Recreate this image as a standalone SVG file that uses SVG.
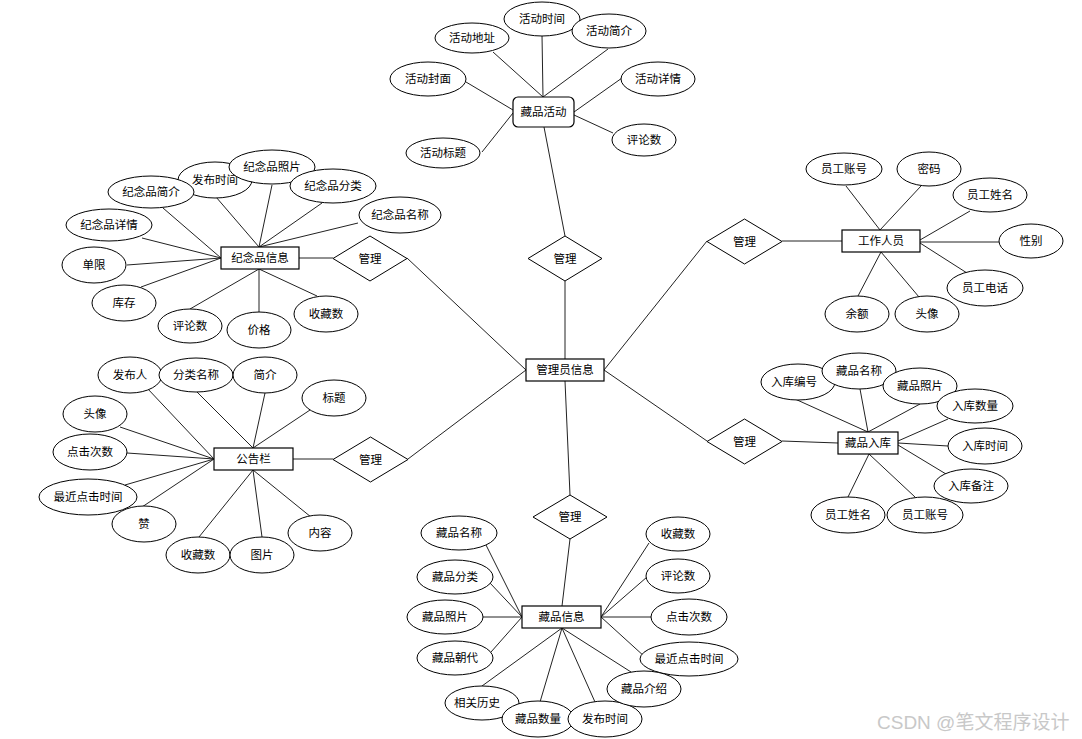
<svg xmlns="http://www.w3.org/2000/svg" width="1082" height="739" viewBox="0 0 1082 739">
<style>
text{font-family:"Liberation Sans","Noto Sans CJK SC",sans-serif;font-size:11.5px;fill:#000;text-anchor:middle;dominant-baseline:central}
.a ellipse{fill:#fff;stroke:#000;stroke-width:1}
.e rect{fill:#fff;stroke:#000;stroke-width:1.2}
.r polygon{fill:#fff;stroke:#000;stroke-width:1}
#connectors line{stroke:#222;stroke-width:1}
.wm{font-size:19px;fill:#c8c8c8;text-anchor:start}
</style>
<rect width="1082" height="739" fill="#fff"/>
<g id="connectors">
<line x1="493" y1="52" x2="543" y2="97"/>
<line x1="542" y1="35" x2="543" y2="97"/>
<line x1="608" y1="49" x2="543" y2="97"/>
<line x1="466" y1="82" x2="513" y2="110"/>
<line x1="622" y1="78" x2="574" y2="112"/>
<line x1="613" y1="133" x2="574" y2="115"/>
<line x1="482" y1="152" x2="513" y2="113"/>
<line x1="544" y1="127" x2="565" y2="236"/>
<line x1="565" y1="281" x2="565" y2="359"/>
<line x1="407" y1="258" x2="526" y2="370"/>
<line x1="408" y1="459" x2="526" y2="370"/>
<line x1="604" y1="370" x2="707" y2="241"/>
<line x1="604" y1="370" x2="707" y2="441"/>
<line x1="565" y1="381" x2="570" y2="495"/>
<line x1="782" y1="241" x2="842" y2="241"/>
<line x1="846" y1="186" x2="880" y2="230"/>
<line x1="921" y1="186" x2="880" y2="230"/>
<line x1="970" y1="211" x2="920" y2="240"/>
<line x1="999" y1="242" x2="920" y2="242"/>
<line x1="967" y1="273" x2="920" y2="243"/>
<line x1="858" y1="296" x2="881" y2="252"/>
<line x1="919" y1="297" x2="881" y2="252"/>
<line x1="782" y1="441" x2="838" y2="443"/>
<line x1="795" y1="399" x2="868" y2="432"/>
<line x1="860" y1="389" x2="868" y2="432"/>
<line x1="920" y1="404" x2="868" y2="432"/>
<line x1="948" y1="419" x2="898" y2="441"/>
<line x1="948" y1="446" x2="898" y2="443"/>
<line x1="946" y1="474" x2="898" y2="445"/>
<line x1="848" y1="497" x2="869" y2="454"/>
<line x1="915" y1="497" x2="869" y2="454"/>
<line x1="299" y1="258" x2="333" y2="258"/>
<line x1="163" y1="208" x2="221" y2="258"/>
<line x1="216" y1="197" x2="259" y2="247"/>
<line x1="272" y1="185" x2="259" y2="247"/>
<line x1="322" y1="203" x2="259" y2="247"/>
<line x1="358" y1="223" x2="259" y2="247"/>
<line x1="142" y1="238" x2="221" y2="258"/>
<line x1="127" y1="265" x2="221" y2="258"/>
<line x1="141" y1="287" x2="221" y2="258"/>
<line x1="190" y1="309" x2="259" y2="269"/>
<line x1="259" y1="312" x2="259" y2="269"/>
<line x1="317" y1="296" x2="259" y2="269"/>
<line x1="293" y1="459" x2="333" y2="459"/>
<line x1="147" y1="388" x2="214" y2="459"/>
<line x1="197" y1="392" x2="253" y2="448"/>
<line x1="265" y1="393" x2="253" y2="448"/>
<line x1="310" y1="410" x2="253" y2="448"/>
<line x1="120" y1="427" x2="214" y2="459"/>
<line x1="127" y1="453" x2="214" y2="459"/>
<line x1="125" y1="485" x2="214" y2="459"/>
<line x1="142" y1="507" x2="214" y2="459"/>
<line x1="199" y1="537" x2="253" y2="470"/>
<line x1="262" y1="537" x2="253" y2="470"/>
<line x1="311" y1="517" x2="253" y2="470"/>
<line x1="570" y1="539" x2="562" y2="606"/>
<line x1="486" y1="545" x2="522" y2="617"/>
<line x1="490" y1="583" x2="522" y2="617"/>
<line x1="483" y1="617" x2="522" y2="617"/>
<line x1="491" y1="652" x2="522" y2="617"/>
<line x1="482" y1="686" x2="562" y2="628"/>
<line x1="540" y1="702" x2="562" y2="628"/>
<line x1="595" y1="702" x2="562" y2="628"/>
<line x1="631" y1="672" x2="562" y2="628"/>
<line x1="649" y1="543" x2="601" y2="617"/>
<line x1="647" y1="577" x2="601" y2="617"/>
<line x1="651" y1="617" x2="601" y2="617"/>
<line x1="645" y1="657" x2="601" y2="617"/>
</g>

<g id="n-cangpinhuodong" class="e"><rect x="513" y="97" width="61" height="30" rx="5"/><text x="543.5" y="112">藏品活动</text></g>
<g id="n-admin" class="e"><rect x="526" y="359" width="78" height="22"/><text x="565" y="370">管理员信息</text></g>
<g id="n-staff" class="e"><rect x="842" y="230" width="78" height="22"/><text x="881" y="241">工作人员</text></g>
<g id="n-ruku" class="e"><rect x="838" y="432" width="60" height="22"/><text x="868" y="443">藏品入库</text></g>
<g id="n-jinianpin" class="e"><rect x="221" y="247" width="78" height="22"/><text x="260" y="258">纪念品信息</text></g>
<g id="n-gonggao" class="e"><rect x="214" y="448" width="79" height="22"/><text x="253.5" y="459">公告栏</text></g>
<g id="n-cangpin" class="e"><rect x="522" y="606" width="79" height="22"/><text x="561.5" y="617">藏品信息</text></g>

<g id="r-top" class="r"><polygon points="565,236 602,258.5 565,281 528,258.5"/><text x="565" y="258.5">管理</text></g>
<g id="r-staff" class="r"><polygon points="744.5,219 782,241.5 744.5,264 707,241.5"/><text x="744.5" y="241.5">管理</text></g>
<g id="r-ruku" class="r"><polygon points="744.5,419 782,441.5 744.5,464 707,441.5"/><text x="744.5" y="441.5">管理</text></g>
<g id="r-jinianpin" class="r"><polygon points="370,236 407,258.5 370,281 333,258.5"/><text x="370" y="258.5">管理</text></g>
<g id="r-gonggao" class="r"><polygon points="370.5,437 408,459.5 370.5,482 333,459.5"/><text x="370.5" y="459.5">管理</text></g>
<g id="r-cangpin" class="r"><polygon points="570,495 607,517 570,539 533,517"/><text x="570" y="517">管理</text></g>

<g id="a-hd-dizhi" class="a"><ellipse cx="472" cy="38" rx="37" ry="15"/><text x="472" y="38">活动地址</text></g>
<g id="a-hd-shijian" class="a"><ellipse cx="542" cy="19" rx="38" ry="17"/><text x="542" y="19">活动时间</text></g>
<g id="a-hd-jianjie" class="a"><ellipse cx="609" cy="31" rx="37" ry="17"/><text x="609" y="31">活动简介</text></g>
<g id="a-hd-fengmian" class="a"><ellipse cx="428" cy="79" rx="38" ry="17"/><text x="428" y="79">活动封面</text></g>
<g id="a-hd-xiangqing" class="a"><ellipse cx="658" cy="79" rx="37" ry="17"/><text x="658" y="79">活动详情</text></g>
<g id="a-hd-pinglun" class="a"><ellipse cx="644" cy="140" rx="32" ry="16"/><text x="644" y="140">评论数</text></g>
<g id="a-hd-biaoti" class="a"><ellipse cx="443" cy="153" rx="37" ry="15"/><text x="443" y="153">活动标题</text></g>

<g id="a-st-zhanghao" class="a"><ellipse cx="844" cy="169" rx="38" ry="16"/><text x="844" y="169">员工账号</text></g>
<g id="a-st-mima" class="a"><ellipse cx="929" cy="169" rx="32" ry="17"/><text x="929" y="169">密码</text></g>
<g id="a-st-xingming" class="a"><ellipse cx="990" cy="195" rx="37" ry="17"/><text x="990" y="195">员工姓名</text></g>
<g id="a-st-xingbie" class="a"><ellipse cx="1031" cy="241" rx="32" ry="17"/><text x="1031" y="241">性别</text></g>
<g id="a-st-dianhua" class="a"><ellipse cx="985" cy="288" rx="38" ry="18"/><text x="985" y="288">员工电话</text></g>
<g id="a-st-yue" class="a"><ellipse cx="857" cy="314" rx="32" ry="18"/><text x="857" y="314">余额</text></g>
<g id="a-st-touxiang" class="a"><ellipse cx="927" cy="314" rx="32" ry="18"/><text x="927" y="314">头像</text></g>

<g id="a-rk-bianhao" class="a"><ellipse cx="798" cy="382" rx="37" ry="18"/><text x="794" y="382">入库编号</text></g>
<g id="a-rk-mingcheng" class="a"><ellipse cx="859" cy="371" rx="37" ry="18"/><text x="859" y="371">藏品名称</text></g>
<g id="a-rk-zhaopian" class="a"><ellipse cx="920" cy="386" rx="37" ry="18"/><text x="920" y="386">藏品照片</text></g>
<g id="a-rk-shuliang" class="a"><ellipse cx="975" cy="406" rx="38" ry="17"/><text x="975" y="406">入库数量</text></g>
<g id="a-rk-shijian" class="a"><ellipse cx="985" cy="446" rx="37" ry="18"/><text x="985" y="446">入库时间</text></g>
<g id="a-rk-beizhu" class="a"><ellipse cx="971" cy="486" rx="37" ry="17"/><text x="971" y="486">入库备注</text></g>
<g id="a-rk-xingming" class="a"><ellipse cx="848" cy="515" rx="37" ry="18"/><text x="848" y="515">员工姓名</text></g>
<g id="a-rk-zhanghao" class="a"><ellipse cx="925" cy="515" rx="38" ry="18"/><text x="925" y="515">员工账号</text></g>

<g id="a-jn-fabu" class="a"><ellipse cx="215" cy="180" rx="37" ry="18"/><text x="215" y="180">发布时间</text></g>
<g id="a-jn-jianjie" class="a"><ellipse cx="151" cy="192" rx="43" ry="16"/><text x="151" y="192">纪念品简介</text></g>
<g id="a-jn-zhaopian" class="a"><ellipse cx="272" cy="167" rx="43" ry="17"/><text x="272" y="167">纪念品照片</text></g>
<g id="a-jn-fenlei" class="a"><ellipse cx="333" cy="186" rx="43" ry="17"/><text x="333" y="186">纪念品分类</text></g>
<g id="a-jn-mingcheng" class="a"><ellipse cx="400" cy="215" rx="41" ry="18"/><text x="400" y="215">纪念品名称</text></g>
<g id="a-jn-xiangqing" class="a"><ellipse cx="109" cy="225" rx="43" ry="16"/><text x="109" y="225">纪念品详情</text></g>
<g id="a-jn-danxian" class="a"><ellipse cx="94" cy="265" rx="32" ry="18"/><text x="94" y="265">单限</text></g>
<g id="a-jn-kucun" class="a"><ellipse cx="124" cy="303" rx="32" ry="18"/><text x="124" y="303">库存</text></g>
<g id="a-jn-pinglun" class="a"><ellipse cx="190" cy="326" rx="32" ry="17"/><text x="190" y="326">评论数</text></g>
<g id="a-jn-jiage" class="a"><ellipse cx="259" cy="330" rx="32" ry="18"/><text x="259" y="330">价格</text></g>
<g id="a-jn-shoucang" class="a"><ellipse cx="326" cy="314" rx="32" ry="18"/><text x="326" y="314">收藏数</text></g>

<g id="a-gg-faburen" class="a"><ellipse cx="130" cy="375" rx="32" ry="18"/><text x="130" y="375">发布人</text></g>
<g id="a-gg-fenlei" class="a"><ellipse cx="196" cy="375" rx="37" ry="17"/><text x="196" y="375">分类名称</text></g>
<g id="a-gg-jianjie" class="a"><ellipse cx="265" cy="375" rx="32" ry="18"/><text x="265" y="375">简介</text></g>
<g id="a-gg-biaoti" class="a"><ellipse cx="334" cy="398" rx="32" ry="18"/><text x="334" y="398">标题</text></g>
<g id="a-gg-touxiang" class="a"><ellipse cx="95" cy="414" rx="32" ry="18"/><text x="95" y="414">头像</text></g>
<g id="a-gg-dianji" class="a"><ellipse cx="90" cy="452" rx="37" ry="18"/><text x="90" y="452">点击次数</text></g>
<g id="a-gg-zuijin" class="a"><ellipse cx="88" cy="497" rx="49" ry="18"/><text x="88" y="497">最近点击时间</text></g>
<g id="a-gg-zan" class="a"><ellipse cx="144" cy="524" rx="32" ry="18"/><text x="144" y="524">赞</text></g>
<g id="a-gg-shoucang" class="a"><ellipse cx="198" cy="555" rx="32" ry="18"/><text x="198" y="555">收藏数</text></g>
<g id="a-gg-tupian" class="a"><ellipse cx="262" cy="555" rx="32" ry="18"/><text x="262" y="555">图片</text></g>
<g id="a-gg-neirong" class="a"><ellipse cx="320" cy="533" rx="32" ry="18"/><text x="320" y="533">内容</text></g>

<g id="a-cp-mingcheng" class="a"><ellipse cx="459" cy="533" rx="38" ry="17"/><text x="459" y="533">藏品名称</text></g>
<g id="a-cp-fenlei" class="a"><ellipse cx="455" cy="577" rx="38" ry="17"/><text x="455" y="577">藏品分类</text></g>
<g id="a-cp-zhaopian" class="a"><ellipse cx="445" cy="617" rx="38" ry="17"/><text x="445" y="617">藏品照片</text></g>
<g id="a-cp-chaodai" class="a"><ellipse cx="455" cy="658" rx="38" ry="17"/><text x="455" y="658">藏品朝代</text></g>
<g id="a-cp-lishi" class="a"><ellipse cx="482" cy="703" rx="37" ry="17"/><text x="477" y="703">相关历史</text></g>
<g id="a-cp-shuliang" class="a"><ellipse cx="538" cy="719" rx="36" ry="18"/><text x="538" y="719">藏品数量</text></g>
<g id="a-cp-fabu" class="a"><ellipse cx="605" cy="719" rx="37" ry="18"/><text x="605" y="719">发布时间</text></g>
<g id="a-cp-shoucang" class="a"><ellipse cx="678" cy="534" rx="32" ry="17"/><text x="678" y="534">收藏数</text></g>
<g id="a-cp-pinglun" class="a"><ellipse cx="678" cy="576" rx="32" ry="17"/><text x="678" y="576">评论数</text></g>
<g id="a-cp-dianji" class="a"><ellipse cx="689" cy="617" rx="38" ry="18"/><text x="689" y="617">点击次数</text></g>
<g id="a-cp-zuijin" class="a"><ellipse cx="689" cy="659" rx="49" ry="17"/><text x="689" y="659">最近点击时间</text></g>
<g id="a-cp-jieshao" class="a"><ellipse cx="644" cy="689" rx="37" ry="18"/><text x="644" y="689">藏品介绍</text></g>

<text class="wm" x="877" y="722">CSDN @笔文程序设计</text>
</svg>
